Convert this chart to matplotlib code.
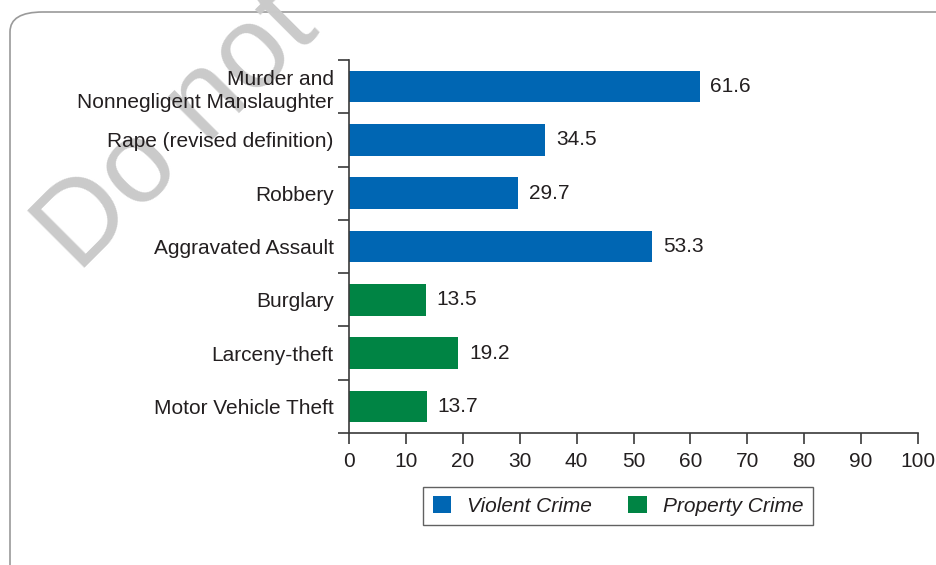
import matplotlib.pyplot as plt
from matplotlib.patches import FancyBboxPatch, Patch

plt.rcParams['font.family'] = ['Liberation Sans', 'DejaVu Sans']

# data
categories = ['Murder and\nNonnegligent Manslaughter', 'Rape (revised definition)',
              'Robbery', 'Aggravated Assault', 'Burglary', 'Larceny-theft',
              'Motor Vehicle Theft']
values = [61.6, 34.5, 29.7, 53.3, 13.5, 19.2, 13.7]
groups = ['Violent Crime'] * 4 + ['Property Crime'] * 3
group_colors = {'Violent Crime': '#0066b3', 'Property Crime': '#008444'}
x_ticks = [0, 10, 20, 30, 40, 50, 60, 70, 80, 90, 100]

text_color = '#231f20'
fs = 15

fig = plt.figure(figsize=(9.36, 5.65), dpi=100)

# rounded frame around the figure
frame = FancyBboxPatch((10 / 936, -0.2), 1.2, (565 - 12) / 565 + 0.2,
                       boxstyle='round,pad=0,rounding_size=0.035',
                       transform=fig.transFigure, fill=False,
                       edgecolor='#9a9a9a', linewidth=1.2, zorder=-2)
fig.patches.append(frame)

# watermark
fig.text(78 / 936, (565 - 274) / 565, 'Do not', rotation=45,
         rotation_mode='anchor', fontsize=84, color='#cacaca',
         ha='left', va='baseline', zorder=-1)

ax = fig.add_axes([349 / 936, (565 - 433) / 565, (918 - 349) / 936, (433 - 60) / 565])
ax.patch.set_alpha(0)

y = list(range(len(categories)))
colors = [group_colors[g] for g in groups]
ax.barh(y, values, height=0.59, color=colors, zorder=3)

for yi, v in zip(y, values):
    ax.text(v + 1.9, yi, f'{v}', va='center', ha='left', fontsize=fs, color=text_color)

ax.set_xlim(0, 100)
ax.set_ylim(len(categories) - 0.5, -0.5)
ax.set_xticks(x_ticks)
ax.set_xticklabels([str(t) for t in x_ticks], fontsize=fs, color=text_color)

# category boundaries as ticks, labels centred between them
ax.set_yticks([i - 0.5 for i in range(len(categories) + 1)])
ax.set_yticklabels([])
ax.set_yticks(y, minor=True)
ax.set_yticklabels(categories, minor=True, fontsize=fs, color=text_color,
                   linespacing=1.3)
ax.tick_params(axis='y', which='minor', length=0, pad=11)
ax.tick_params(axis='y', which='major', length=8, width=1.2, color='#3a3a3a')
ax.tick_params(axis='x', length=8, width=1.2, color='#3a3a3a', pad=6)

for s in ['top', 'right']:
    ax.spines[s].set_visible(False)
for s in ['left', 'bottom']:
    ax.spines[s].set_color('#3a3a3a')
    ax.spines[s].set_linewidth(1.2)
    ax.spines[s].set_zorder(4)

handles = [Patch(facecolor=group_colors[g], edgecolor='none', label=g)
           for g in ['Violent Crime', 'Property Crime']]
leg = fig.legend(handles=handles, loc='center',
                 bbox_to_anchor=(618 / 936, (565 - 506) / 565),
                 ncol=2, frameon=True, fancybox=False,
                 prop={'style': 'italic', 'size': fs}, handlelength=0.9,
                 handleheight=0.9, columnspacing=1.75, handletextpad=0.75,
                 borderpad=0.45, borderaxespad=0)
leg.get_frame().set_edgecolor('#3a3a3a')
leg.get_frame().set_linewidth(1.0)
for t in leg.get_texts():
    t.set_color(text_color)

fig.savefig('out.png', dpi=100)
